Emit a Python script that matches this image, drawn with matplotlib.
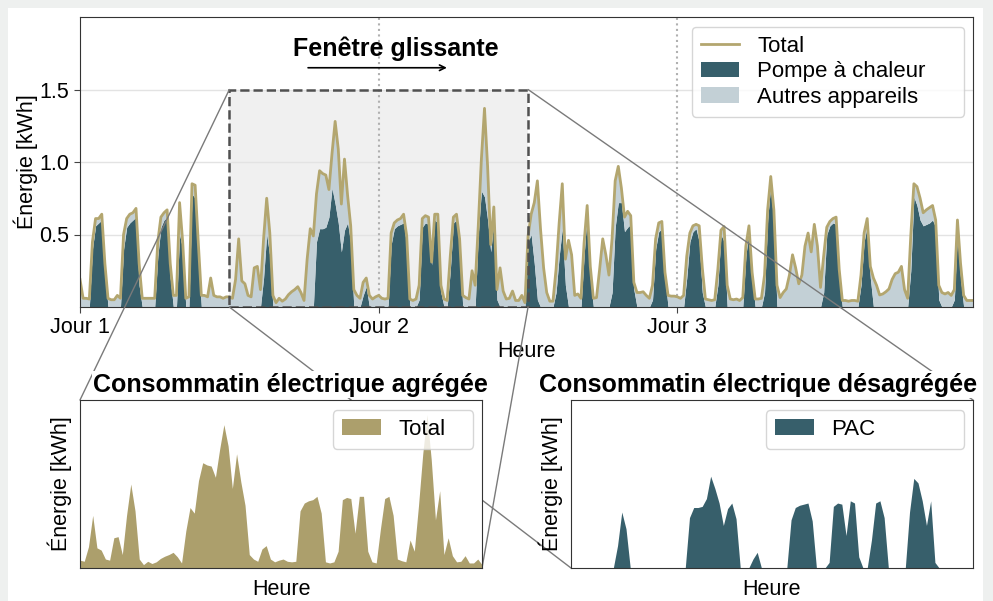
import numpy as np
import matplotlib
matplotlib.use("Agg")
import matplotlib.pyplot as plt
from matplotlib.patches import Rectangle, ConnectionPatch

plt.rcParams['font.family'] = ['Liberation Sans', 'DejaVu Sans']

# 15-min energy over 3 days (kWh)
total = [
    0.19, 0.06, 0.06, 0.055, 0.45, 0.61, 0.61, 0.64, 0.30, 0.06, 0.05, 0.05,
    0.08, 0.06, 0.50, 0.61, 0.64, 0.65, 0.68, 0.30, 0.06, 0.06, 0.06, 0.06,
    0.06, 0.45, 0.62, 0.65, 0.67, 0.30, 0.08, 0.08, 0.72, 0.45, 0.06, 0.07,
    0.85, 0.84, 0.45, 0.08, 0.08, 0.07, 0.20, 0.08, 0.07, 0.07, 0.06, 0.07,
    0.07, 0.06, 0.19, 0.47, 0.18, 0.16, 0.08, 0.07, 0.27, 0.28, 0.12, 0.47,
    0.75, 0.51, 0.08, 0.03, 0.06, 0.04, 0.055, 0.085, 0.105, 0.12, 0.14, 0.10,
    0.045, 0.33, 0.54, 0.49, 0.78, 0.94, 0.92, 0.91, 0.81, 1.06, 1.28, 1.09,
    0.71, 1.02, 0.77, 0.56, 0.12, 0.08, 0.06, 0.17, 0.20, 0.08, 0.055, 0.07,
    0.08, 0.06, 0.055, 0.06, 0.51, 0.58, 0.60, 0.61, 0.64, 0.49, 0.055, 0.045,
    0.055, 0.15, 0.61, 0.63, 0.62, 0.31, 0.64, 0.64, 0.15, 0.055, 0.045, 0.35,
    0.62, 0.64, 0.47, 0.08, 0.065, 0.055, 0.25, 0.15, 0.56, 1.02, 1.37, 0.97,
    0.43, 0.69, 0.12, 0.27, 0.11, 0.055, 0.06, 0.11, 0.045, 0.045, 0.08, 0.03,
    0.49, 0.64, 0.72, 0.87, 0.54, 0.27, 0.10, 0.04, 0.04, 0.26, 0.58, 0.85,
    0.33, 0.46, 0.36, 0.08, 0.09, 0.06, 0.44, 0.70, 0.28, 0.06, 0.065, 0.26,
    0.47, 0.36, 0.22, 0.47, 0.87, 0.97, 0.82, 0.62, 0.66, 0.63, 0.17, 0.10,
    0.10, 0.105, 0.08, 0.06, 0.15, 0.47, 0.58, 0.59, 0.24, 0.08, 0.075, 0.075,
    0.07, 0.06, 0.08, 0.35, 0.51, 0.56, 0.57, 0.56, 0.27, 0.055, 0.05, 0.045,
    0.05, 0.26, 0.53, 0.555, 0.15, 0.055, 0.05, 0.055, 0.045, 0.065, 0.42, 0.56,
    0.24, 0.055, 0.055, 0.06, 0.22, 0.67, 0.90, 0.67, 0.15, 0.065, 0.10, 0.125,
    0.22, 0.36, 0.27, 0.16, 0.22, 0.42, 0.51, 0.38, 0.57, 0.42, 0.135, 0.35,
    0.55, 0.59, 0.61, 0.62, 0.26, 0.045, 0.045, 0.04, 0.045, 0.045, 0.04, 0.22,
    0.51, 0.61, 0.28, 0.20, 0.15, 0.083, 0.09, 0.105, 0.125, 0.19, 0.23, 0.24,
    0.28, 0.12, 0.06, 0.49, 0.85, 0.83, 0.75, 0.65, 0.67, 0.685, 0.70, 0.60,
    0.15, 0.10, 0.09, 0.10, 0.08, 0.12, 0.60, 0.30, 0.08, 0.045, 0.045, 0.045,
]

# heat pump part
pac = [
    0, 0, 0, 0, 0.40, 0.56, 0.58, 0.60, 0.25, 0, 0, 0,
    0, 0, 0.40, 0.55, 0.58, 0.60, 0.62, 0.15, 0, 0, 0, 0,
    0, 0.35, 0.55, 0.60, 0.62, 0.20, 0, 0, 0.50, 0.40, 0, 0,
    0.78, 0.75, 0.35, 0, 0, 0, 0, 0, 0, 0, 0, 0,
    0, 0, 0, 0, 0, 0, 0, 0, 0, 0, 0, 0.20,
    0.50, 0.35, 0, 0, 0, 0, 0, 0, 0, 0, 0, 0,
    0, 0, 0, 0, 0.45, 0.54, 0.54, 0.55, 0.62, 0.82, 0.71, 0.58,
    0.38, 0.53, 0.58, 0.44, 0, 0, 0, 0.08, 0.14, 0, 0, 0,
    0, 0, 0, 0, 0.43, 0.54, 0.56, 0.57, 0.58, 0.42, 0, 0,
    0, 0.05, 0.55, 0.58, 0.57, 0.29, 0.60, 0.58, 0.10, 0, 0, 0.25,
    0.58, 0.60, 0.45, 0, 0, 0, 0, 0, 0.50, 0.80, 0.76, 0.60,
    0.38, 0.60, 0.05, 0, 0, 0, 0, 0, 0, 0, 0, 0,
    0.45, 0.50, 0.30, 0.05, 0, 0, 0, 0, 0, 0.10, 0.35, 0.54,
    0.15, 0, 0, 0, 0, 0, 0.35, 0.65, 0.20, 0, 0, 0,
    0, 0, 0, 0.10, 0.55, 0.72, 0.72, 0.52, 0.55, 0.57, 0.12, 0,
    0, 0, 0, 0, 0.05, 0.40, 0.52, 0.54, 0.20, 0, 0, 0,
    0, 0, 0, 0.20, 0.45, 0.52, 0.54, 0.45, 0.10, 0, 0, 0,
    0, 0.15, 0.50, 0.45, 0, 0, 0, 0, 0, 0, 0.35, 0.53,
    0.20, 0, 0, 0, 0.10, 0.60, 0.85, 0.55, 0, 0, 0, 0,
    0, 0, 0, 0, 0, 0, 0, 0, 0, 0, 0, 0.10,
    0.50, 0.56, 0.58, 0.57, 0.20, 0, 0, 0, 0, 0, 0, 0.15,
    0.45, 0.56, 0.20, 0, 0, 0, 0, 0, 0, 0, 0, 0,
    0, 0, 0, 0.25, 0.76, 0.70, 0.60, 0.56, 0.57, 0.58, 0.60, 0.55,
    0.05, 0, 0, 0, 0, 0.05, 0.52, 0.20, 0, 0, 0, 0,
]

day_ticks = [0, 24, 48]
day_labels = ['Jour 1', 'Jour 2', 'Jour 3']
win_start, win_end, win_top = 12, 36, 1.5

total = np.array(total)
pac = np.array(pac)
t = np.arange(len(total)) * 0.25

c_pac = '#375f6b'
c_autres = '#c3d0d6'
c_total = '#b3a66f'
c_fill = '#ac9f6c'
fs = 15.5
leg_kw = dict(fontsize=16, handletextpad=0.8, handlelength=1.75, borderaxespad=0)

fig = plt.figure(figsize=(9.93, 6.01), dpi=100, facecolor='#eef0ef')
fig.add_artist(Rectangle((8 / 993, 0), 975 / 993, 593 / 601, transform=fig.transFigure,
                         facecolor='white', edgecolor='none', zorder=-10))

ax = fig.add_axes([80 / 993, 294 / 601, 893 / 993, 290 / 601])
ax.set_axisbelow(True)
ax.grid(axis='y', color='#e3e3e3', lw=1)
ax.fill_between(t, 0, pac, color=c_pac, lw=0, label='Pompe à chaleur', zorder=1)
ax.fill_between(t, pac, total, color=c_autres, lw=0, label='Autres appareils', zorder=1)
ax.plot(t, total, color=c_total, lw=2, label='Total', zorder=2)
for d in day_ticks[1:]:
    ax.axvline(d, color='#b0b0b0', ls=':', lw=1.5, zorder=0.6)

ax.add_patch(Rectangle((win_start, 0), win_end - win_start, win_top,
                       facecolor='#f0f0f0', edgecolor='none', zorder=0.2))
ax.add_patch(Rectangle((win_start, 0), win_end - win_start, win_top,
                       facecolor='none', edgecolor='#505050', ls='--', lw=1.8, zorder=3))
ax.text(25.4, 1.73, 'Fenêtre glissante', ha='center', va='baseline',
        fontsize=18, fontweight='bold')
ax.annotate('', xy=(29.7, 1.65), xytext=(18.1, 1.65),
            arrowprops=dict(arrowstyle='->', color='black', lw=1.2))

ax.set_xlim(t[0], t[-1])
ax.set_ylim(0, 2.0)
ax.set_yticks([0.5, 1.0, 1.5])
ax.set_xticks(day_ticks)
ax.set_xticklabels(day_labels)
ax.tick_params(labelsize=fs, length=4, color='#444')
ax.set_xlabel('Heure', fontsize=fs, labelpad=2)
ax.set_ylabel('Énergie [kWh]', fontsize=fs, labelpad=1)
for s in ax.spines.values():
    s.set_color('#333333')
h, l = ax.get_legend_handles_labels()
order = [2, 0, 1]
ax.legend([h[i] for i in order], [l[i] for i in order], loc='upper left',
          bbox_to_anchor=(0.685, 0.662, 0.305, 0.304), mode='expand',
          labelspacing=0.2, **leg_kw)

win = slice(48, 144)
ax1 = fig.add_axes([80 / 993, 33 / 601, 402 / 993, 168 / 601])
ax2 = fig.add_axes([571 / 993, 33 / 601, 402 / 993, 168 / 601])
ax1.fill_between(t[win], 0, total[win], color=c_fill, lw=0, label='Total')
ax2.fill_between(t[win], 0, pac[win], color=c_pac, lw=0, label='PAC')
titles = ['Consommatin électrique agrégée', 'Consommatin électrique désagrégée']
for a, title, tx in [(ax1, titles[0], 0.524), (ax2, titles[1], 0.466)]:
    a.set_zorder(3)
    a.set_xlim(t[48], t[143])
    a.set_ylim(0, 1.5)
    a.set_xticks([])
    a.set_yticks([])
    a.set_xlabel('Heure', fontsize=fs, labelpad=8)
    a.set_ylabel('Énergie [kWh]', fontsize=fs, labelpad=6)
    a.set_title(title, fontsize=18, fontweight='bold', x=tx, pad=6,
                bbox=dict(facecolor='white', edgecolor='none', pad=1))
    for s in a.spines.values():
        s.set_color('#333333')
ax1.legend(loc='upper left', bbox_to_anchor=(0.629, 0.5, 0.349, 0.44), mode='expand', **leg_kw)
ax2.legend(loc='upper left', bbox_to_anchor=(0.485, 0.5, 0.493, 0.44), mode='expand', **leg_kw)

links = [((win_start, win_top), ax1, (0, 1)), ((win_end, win_top), ax2, (1, 1)),
         ((win_start, 0), ax2, (0, 0)), ((win_end, 0), ax1, (1, 0))]
for xy, target, corner in links:
    cp = ConnectionPatch(xyA=xy, coordsA=ax.transData, xyB=corner, coordsB=target.transAxes,
                         color='#7a7a7a', lw=1, zorder=2)
    fig.add_artist(cp)

fig.savefig('out.png', dpi=100, facecolor=fig.get_facecolor())
